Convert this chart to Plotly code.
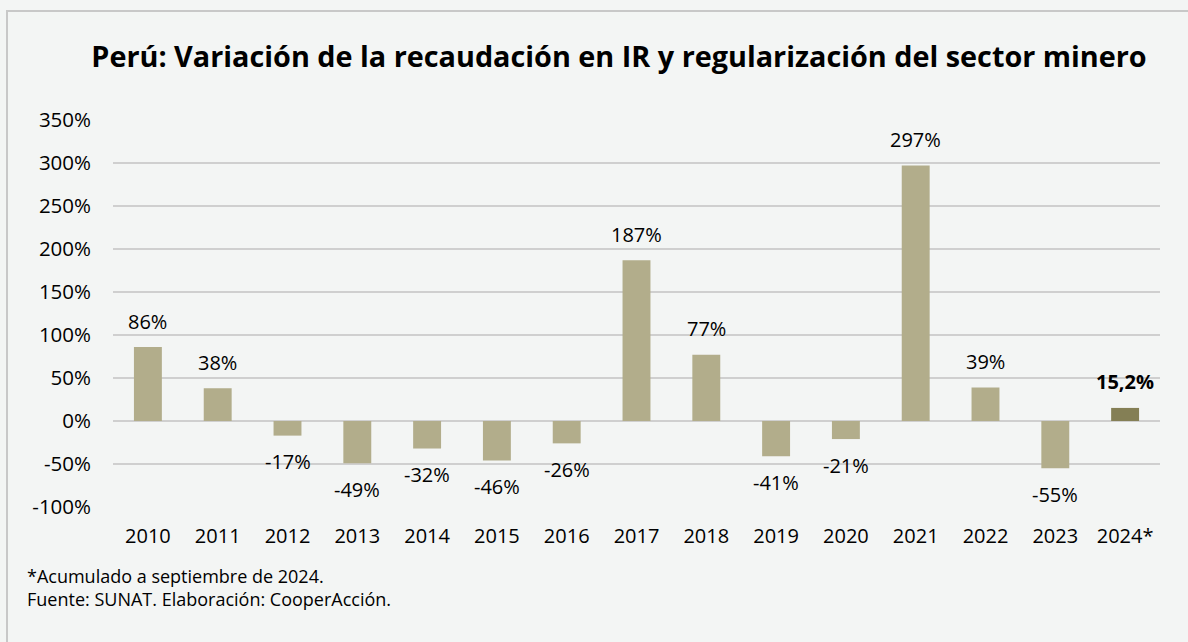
import plotly.graph_objects as go

years = ["2010", "2011", "2012", "2013", "2014", "2015", "2016", "2017",
         "2018", "2019", "2020", "2021", "2022", "2023", "2024*"]
values = [86, 38, -17, -49, -32, -46, -26, 187, 77, -41, -21, 297, 39, -55, 15.2]
labels = ["86%", "38%", "-17%", "-49%", "-32%", "-46%", "-26%", "187%",
          "77%", "-41%", "-21%", "297%", "39%", "-55%", "<b>15,2%</b>"]
tick_vals = [-100, -50, 0, 50, 100, 150, 200, 250, 300, 350]
tick_text = ["-100%", "-50%", "0%", "50%", "100%", "150%", "200%", "250%", "300%", "350%"]
footnote_lines = ["*Acumulado a septiembre de 2024.",
                  "Fuente: SUNAT. Elaboración: CooperAcción."]

colors = ["#b2ad8b"] * (len(years) - 1) + ["#847f55"]

FONT = "Open Sans"
fig = go.Figure(go.Bar(
    x=years, y=values,
    marker=dict(color=colors, line=dict(width=0)),
    width=0.4, hoverinfo="x+y",
))

L, R, T, B = 113, 28, 120, 135
pw, ph = 1188 - L - R, 642 - T - B

def px(x):
    return (x - L) / pw

def py(y):
    return (642 - B - y) / ph

# category axis: annotation x given as the category index
label_annotations = [
    dict(x=i, y=v, xref="x", yref="y", text=t, showarrow=False,
         xanchor="center", yanchor="middle", yshift=(26 if v >= 0 else -26),
         font=dict(family=FONT, size=20, color="#000000"))
    for i, (v, t) in enumerate(zip(values, labels))
]

fig.update_layout(
    width=1188, height=642,
    margin=dict(l=L, r=R, t=T, b=B),
    paper_bgcolor="#f3f5f4", plot_bgcolor="#f3f5f4",
    font=dict(family=FONT, size=20, color="#000000"),
    showlegend=False, bargap=0.6,
    title=dict(text="<b>Perú: Variación de la recaudación en IR y regularización del sector minero</b>",
               x=619 / 1188, xanchor="center", y=1 - 57 / 642, yanchor="middle",
               font=dict(family=FONT, size=28.8, color="#000000")),
    xaxis=dict(type="category", categoryorder="array", categoryarray=years,
               range=[-0.5, len(years) - 0.5],
               showgrid=False, showline=False, ticks="", ticklabelstandoff=15,
               tickfont=dict(family=FONT, size=20, color="#000000")),
    yaxis=dict(range=[-100, 350], tickvals=tick_vals, ticktext=tick_text,
               showgrid=True, gridcolor="#cfcfcf", gridwidth=1.5,
               zeroline=True, zerolinecolor="#cfcfcf", zerolinewidth=1.5,
               showline=False, ticks="", ticklabelstandoff=21,
               tickfont=dict(family=FONT, size=20.5, color="#000000")),
    shapes=[dict(type="rect", xref="paper", yref="paper",
                 x0=px(7), x1=px(1300), y0=py(11), y1=py(800),
                 line=dict(color="#c8c8c8", width=2), fillcolor="rgba(0,0,0,0)", layer="below")],
    annotations=label_annotations + [
        dict(text="<br>".join(footnote_lines), xref="paper", yref="paper",
             x=px(25), y=py(587.5), xanchor="left", yanchor="middle", align="left",
             showarrow=False,
             font=dict(family=FONT, size=18, color="#000000")),
    ],
)

fig.write_html("out.html", config={"displayModeBar": False},
               post_script="document.body.style.margin='0px';document.body.style.overflow='hidden';")
